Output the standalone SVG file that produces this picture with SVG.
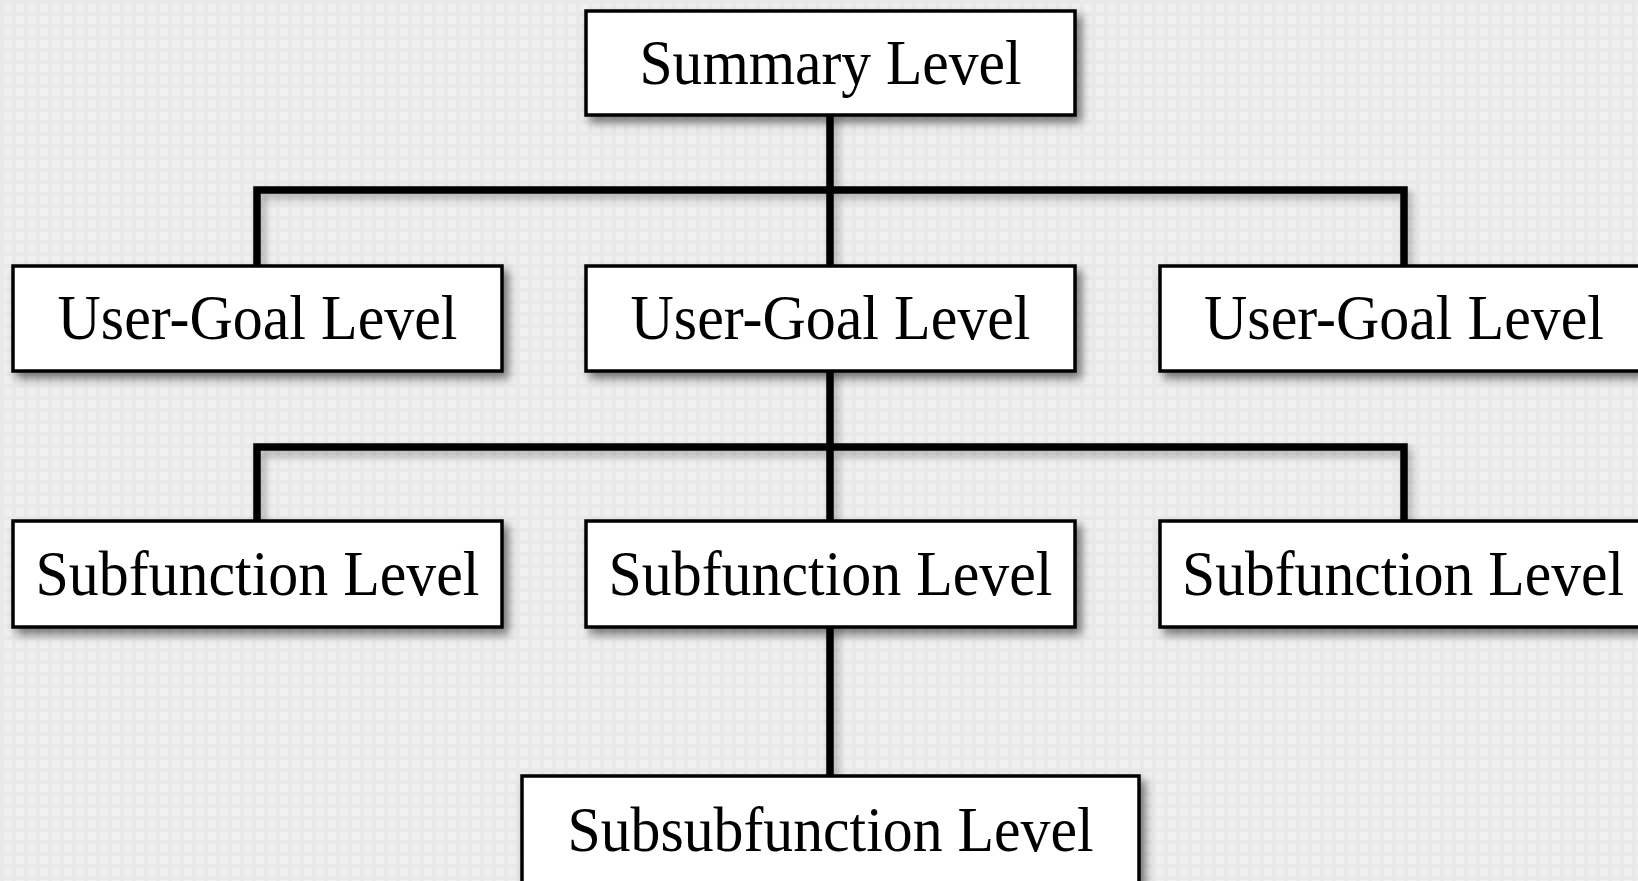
<svg xmlns="http://www.w3.org/2000/svg" width="1638" height="881" viewBox="0 0 1638 881">
<defs>
<pattern id="grid" width="12" height="12" patternUnits="userSpaceOnUse">
<rect width="12" height="12" fill="#f0f0f0"/>
<rect x="0" y="0" width="4" height="12" fill="#e9e9e9"/>
<rect x="0" y="0" width="12" height="4" fill="#e9e9e9"/>
</pattern>
<filter id="shadow" x="-10%" y="-20%" width="130%" height="150%">
<feDropShadow dx="5" dy="6" stdDeviation="5" flood-color="#000" flood-opacity="0.5"/>
</filter>
<filter id="lshadow" x="-10%" y="-20%" width="130%" height="150%">
<feDropShadow dx="4" dy="5" stdDeviation="4" flood-color="#000" flood-opacity="0.3"/>
</filter>
</defs>
<style>
.box{fill:#ffffff;stroke:#000;stroke-width:3.5;filter:url(#shadow)}
.lbl{font-family:"Liberation Serif","Times New Roman",serif;font-size:64px;fill:#000;text-anchor:middle}
.conn{fill:none;stroke:#000;stroke-width:7.5;stroke-linecap:square}
</style>
<rect width="1638" height="881" fill="url(#grid)"/>
<g id="connectors" filter="url(#lshadow)">
<path class="conn" d="M830,115 V266 M257,190 H1404 M257,190 V266 M1404,190 V266"/>
<path class="conn" d="M830,371 V521 M257,447 H1404 M257,447 V521 M1404,447 V521"/>
<path class="conn" d="M830,627 V776"/>
</g>
<g id="summary">
<rect class="box" x="586" y="11" width="489" height="104"/>
<text class="lbl" x="830.5" y="84" textLength="382" lengthAdjust="spacingAndGlyphs">Summary Level</text>
</g>
<g id="usergoal1">
<rect class="box" x="13" y="266" width="489" height="105"/>
<text class="lbl" x="257.5" y="339" textLength="400" lengthAdjust="spacingAndGlyphs">User-Goal Level</text>
</g>
<g id="usergoal2">
<rect class="box" x="586" y="266" width="489" height="105"/>
<text class="lbl" x="830.5" y="339" textLength="400" lengthAdjust="spacingAndGlyphs">User-Goal Level</text>
</g>
<g id="usergoal3">
<rect class="box" x="1160" y="266" width="489" height="105"/>
<text class="lbl" x="1404" y="339" textLength="400" lengthAdjust="spacingAndGlyphs">User-Goal Level</text>
</g>
<g id="subfunction1">
<rect class="box" x="13" y="521" width="489" height="106"/>
<text class="lbl" x="257.5" y="595" textLength="444" lengthAdjust="spacingAndGlyphs">Subfunction Level</text>
</g>
<g id="subfunction2">
<rect class="box" x="586" y="521" width="489" height="106"/>
<text class="lbl" x="830.5" y="595" textLength="444" lengthAdjust="spacingAndGlyphs">Subfunction Level</text>
</g>
<g id="subfunction3">
<rect class="box" x="1160" y="521" width="489" height="106"/>
<text class="lbl" x="1403" y="595" textLength="442" lengthAdjust="spacingAndGlyphs">Subfunction Level</text>
</g>
<g id="subsubfunction">
<rect class="box" x="522" y="776" width="617" height="115"/>
<text class="lbl" x="830.5" y="851" textLength="526" lengthAdjust="spacingAndGlyphs">Subsubfunction Level</text>
</g>
</svg>
